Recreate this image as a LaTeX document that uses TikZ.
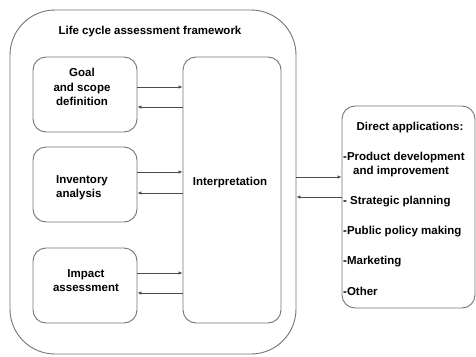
\documentclass[tikz,border=0pt]{standalone}
\usepackage{fontspec}
\setmainfont{Liberation Sans}
\usetikzlibrary{arrows.meta,positioning}

\begin{document}
\begin{tikzpicture}[x=1pt,y=-1pt,
    box/.style={draw=black!55, line width=0.9pt, rounded corners=13pt, inner sep=0pt},
    txt/.style={font=\bfseries\fontsize{11.5}{14.5}\selectfont, inner sep=0pt},
    arr/.style={draw=black!70, line width=0.7pt, -{Latex[length=4pt,width=3.5pt]}}]
    \useasboundingbox (0,0) rectangle (476,356);
    \node[box, rounded corners=45pt, minimum width=286pt, minimum height=344pt] (frame) at (153,182) {};
    \node[txt] (title) at (150,32) {Life cycle assessment framework};
    \node[box, minimum width=104pt, minimum height=75pt] (goal) at (85,94.5) {};
    \node[txt, align=center] (goaltxt) at (82,87) {Goal\\and scope\\definition};
    \node[box, minimum width=104pt, minimum height=75pt] (inv) at (85,184.5) {};
    \node[txt, align=left] (invtxt) at (82,187.5) {Inventory\\analysis};
    \node[box, minimum width=104pt, minimum height=75pt] (impact) at (85,285.5) {};
    \node[txt, align=center] (impacttxt) at (86,280.5) {Impact\\assessment};
    \node[box, minimum width=98pt, minimum height=266pt] (interp) at (232,190) {};
    \node[txt] (interptxt) at (230,183) {Interpretation};
    \node[box, minimum width=133pt, minimum height=202pt] (direct) at (408.5,207) {};
    \node[txt] (directtxt) at (410,128) {Direct applications:};
    \node[txt, anchor=west, align=left] (app1) at (343,164.5) {-Product development\\\hspace*{10pt}and improvement};
    \node[txt, anchor=west] (app2) at (343,202) {- Strategic planning};
    \node[txt, anchor=west] (app3) at (343,232) {-Public policy making};
    \node[txt, anchor=west] (app4) at (343,262) {-Marketing};
    \node[txt, anchor=west] (app5) at (343,291) {-Other};
    \draw[arr] ([yshift=7.5pt]goal.east) -- ([yshift=7.5pt]goal.east -| interp.west);
    \draw[arr] ([yshift=-12.5pt]goal.east -| interp.west) -- ([yshift=-12.5pt]goal.east);
    \draw[arr] ([yshift=12.5pt]inv.east) -- ([yshift=12.5pt]inv.east -| interp.west);
    \draw[arr] ([yshift=-8.5pt]inv.east -| interp.west) -- ([yshift=-8.5pt]inv.east);
    \draw[arr] ([yshift=12.5pt]impact.east) -- ([yshift=12.5pt]impact.east -| interp.west);
    \draw[arr] ([yshift=-7.5pt]impact.east -| interp.west) -- ([yshift=-7.5pt]impact.east);
    \draw[arr] ([yshift=30pt]direct.west -| frame.east) -- ([yshift=30pt]direct.west);
    \draw[arr] ([yshift=10pt]direct.west) -- ([yshift=10pt]direct.west -| frame.east);
\end{tikzpicture}
\end{document}
